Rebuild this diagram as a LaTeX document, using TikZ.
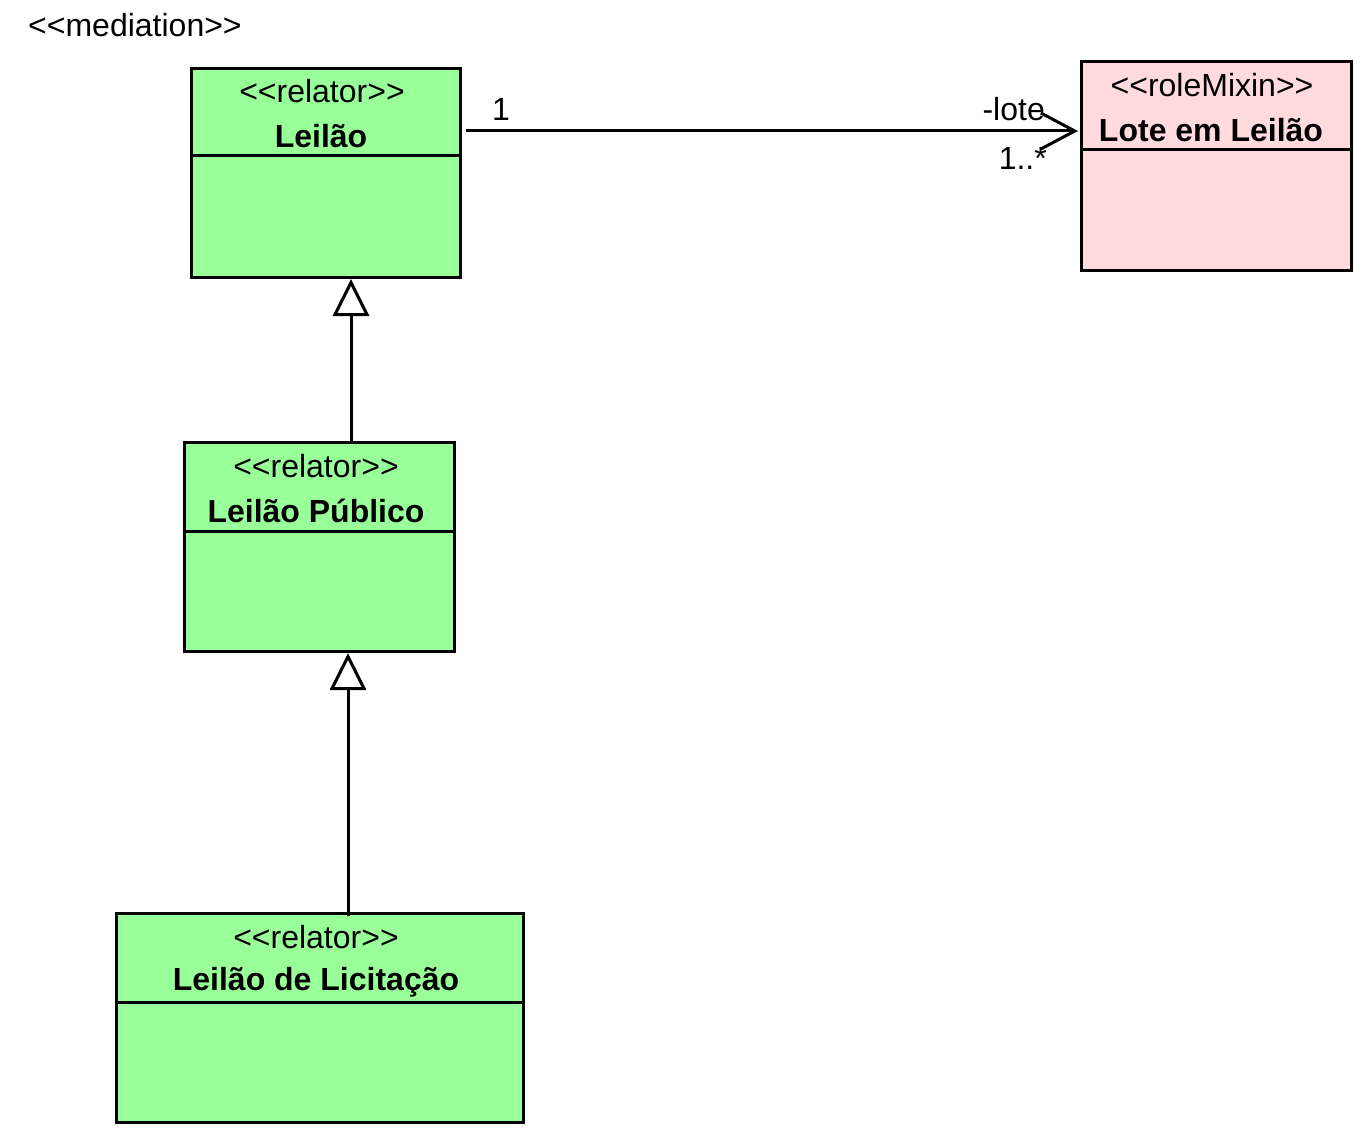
\documentclass[tikz,border=0pt]{standalone}
\usepackage{fontspec}
\setmainfont{Liberation Sans}
\usetikzlibrary{arrows.meta}
\definecolor{relgreen}{RGB}{153,255,153}
\definecolor{rolepink}{RGB}{255,219,222}
\newcommand{\stl}{<{}<}
\newcommand{\stg}{>{}>}
\tikzset{
  classbox/.style={draw=black, line width=3pt, anchor=north west, inner sep=0pt, minimum height=209pt},
  stereo/.style={font=\fontsize{32}{38}\selectfont, inner sep=0pt},
  cname/.style={font=\fontsize{32}{38}\selectfont\bfseries, inner sep=0pt},
  lbl/.style={font=\fontsize{32}{38}\selectfont, inner sep=0pt},
  divider/.style={line width=3pt},
  gen/.style={line width=3pt, -{Triangle[open, length=37pt, width=36pt, line width=3pt]}},
  assoc/.style={line width=3pt, -{Straight Barb[length=34pt, width=36pt, line width=3pt]}},
}
\begin{document}
\begin{tikzpicture}[x=1pt,y=-1pt]
\useasboundingbox (0,0) rectangle (1362,1134);

% top-left label
\node[lbl, anchor=west] (med) at (28,25) {\stl mediation\stg};

% Leilão
\node[classbox, fill=relgreen, minimum width=269pt] (leilao) at (190,67) {};
\draw[divider] (190,156) coordinate (d1a) -- (459,156) coordinate (d1b);
\node[stereo] (leilaoS) at (322,91) {\stl relator\stg};
\node[cname] (leilaoN) at (321,136) {Leilão};

% Lote em Leilão
\node[classbox, fill=rolepink, minimum width=270pt] (lote) at (1080,60) {};
\draw[divider] (1080,150) coordinate (d2a) -- (1350,150) coordinate (d2b);
\node[stereo] (loteS) at (1212,85) {\stl roleMixin\stg};
\node[cname] (loteN) at (1211,130) {Lote em Leilão};

% Leilão Público
\node[classbox, fill=relgreen, minimum width=270pt] (pub) at (183,441) {};
\draw[divider] (183,531) coordinate (d3a) -- (453,531) coordinate (d3b);
\node[stereo] (pubS) at (316,466) {\stl relator\stg};
\node[cname] (pubN) at (316,511) {Leilão Público};

% Leilão de Licitação
\node[classbox, fill=relgreen, minimum width=407pt] (lic) at (115,912) {};
\draw[divider] (115,1002) coordinate (d4a) -- (522,1002) coordinate (d4b);
\node[stereo] (licS) at (316,937) {\stl relator\stg};
\node[cname] (licN) at (316,982) {Leilão de Licitação};

% generalizations
\coordinate (g1) at (351,0);
\coordinate (g2) at (348,0);
\draw[gen] (pub.north -| g1) -- (leilao.south -| g1);
\draw[gen] ([yshift=-4pt]lic.north -| g2) -- (pub.south -| g2);

% association
\coordinate (ay) at (0,131);
\draw[assoc] ([xshift=4pt]leilao.east |- ay) -- ([xshift=-2pt]lote.west |- ay);
\node[lbl] (m1) at (501,109) {1};
\node[lbl, anchor=east] (role) at (1045,109) {-lote};
\node[lbl, anchor=east] (m2) at (1047,158) {1..*};
\end{tikzpicture}
\end{document}
